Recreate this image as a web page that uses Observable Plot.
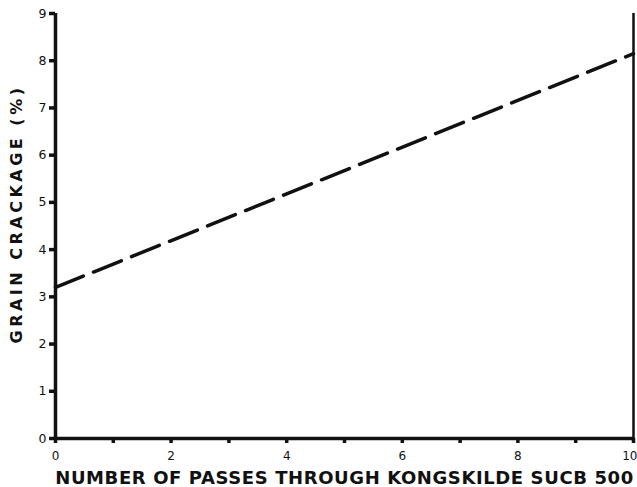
<!DOCTYPE html>
<html>
<head>
<meta charset="utf-8">
<script src="https://cdn.jsdelivr.net/npm/d3@7"></script>
<script src="https://cdn.jsdelivr.net/npm/@observablehq/plot@0.6"></script>
<style>
  html, body { margin: 0; padding: 0; background: #fff; }
  #chart { width: 637px; height: 487px; }
</style>
</head>
<body>
<div id="chart"></div>
<script>
const passes = [0, 10];
const crackage = [3.2, 8.15];
const xTicks = [0, 1, 2, 3, 4, 5, 6, 7, 8, 9, 10];
const xTickLabels = [0, 2, 4, 6, 8, 10];
const yTicks = [0, 1, 2, 3, 4, 5, 6, 7, 8, 9];
const xLabel = "NUMBER OF PASSES THROUGH KONGSKILDE SUCB 500";
const yLabel = "GRAIN CRACKAGE (%)";

const lineData = passes.map((p, i) => ({x: p, y: crackage[i]}));
const ink = "#111";
const innerLabels = xTickLabels.filter(d => d < 10);
const lastLabel = xTickLabels.filter(d => d >= 10);

const chart = Plot.plot({
  width: 637,
  height: 487,
  marginLeft: 55,
  marginRight: 4,
  marginTop: 13,
  marginBottom: 49,
  style: {fontFamily: "'DejaVu Sans', sans-serif", color: ink, background: "#fff"},
  x: {domain: [0, 10], axis: null},
  y: {domain: [0, 9], axis: null},
  marks: [
    Plot.axisY({ticks: yTicks, tickSize: 6, tickPadding: 3, stroke: ink, strokeWidth: 3.5, fontSize: 12.5, label: null}),
    Plot.axisX({ticks: xTicks, tickSize: 5, stroke: ink, strokeWidth: 3.5, tickFormat: () => "", label: null}),
    Plot.text(innerLabels, {x: d => d, y: 0, dy: 18, fontSize: 12, fill: ink, textAnchor: "middle"}),
    Plot.text(lastLabel, {x: d => d, y: 0, dy: 18, dx: 4, fontSize: 12, fill: ink, textAnchor: "end"}),
    Plot.ruleY([0], {stroke: ink, strokeWidth: 3.5}),
    Plot.ruleX([0], {stroke: ink, strokeWidth: 3.5}),
    Plot.ruleX([10], {y1: 0, y2: 9, stroke: ink, strokeWidth: 2.5}),
    Plot.line(lineData, {x: "x", y: "y", stroke: ink, strokeWidth: 3.5, strokeDasharray: "30,11"}),
    Plot.text([xLabel], {frameAnchor: "bottom", dy: 45, fontSize: 18, fontWeight: "bold", fill: ink, textAnchor: "middle", className: "xlab"}),
    Plot.text([yLabel], {frameAnchor: "left", dx: -39, dy: -12, rotate: -90, fontSize: 16, fontWeight: "bold", fill: ink, textAnchor: "middle", className: "ylab"})
  ]
});
chart.querySelectorAll(".xlab text").forEach(t => t.style.letterSpacing = "0.6px");
chart.querySelectorAll(".ylab text").forEach(t => t.style.letterSpacing = "3.5px");
document.getElementById("chart").appendChild(chart);
</script>
</body>
</html>
